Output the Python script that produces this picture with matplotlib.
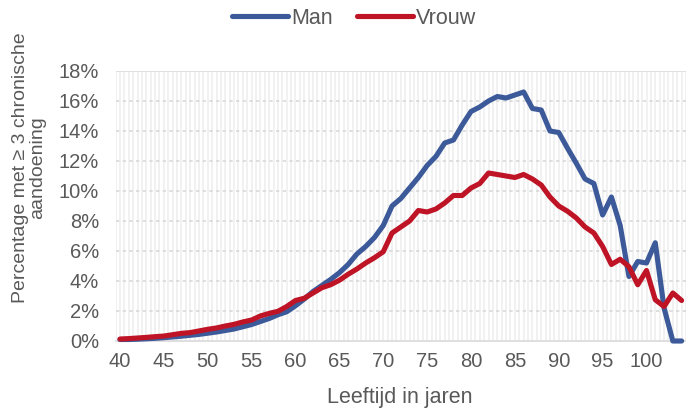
import numpy as np
import matplotlib.pyplot as plt

# Percentage met >= 3 chronische aandoeningen per leeftijd
leeftijd = list(range(40, 105))
man = [0.10, 0.10, 0.12, 0.15, 0.18, 0.22, 0.27, 0.32, 0.38, 0.44,
       0.52, 0.60, 0.70, 0.80, 0.95, 1.10, 1.30, 1.50, 1.75, 1.95,
       2.35, 2.80, 3.30, 3.70, 4.10, 4.55, 5.10, 5.80, 6.30, 6.90,
       7.70, 9.00, 9.50, 10.2, 10.9, 11.7, 12.3, 13.2, 13.4, 14.4,
       15.3, 15.6, 16.0, 16.3, 16.2, 16.4, 16.6, 15.5, 15.4, 14.0,
       13.9, 12.85, 11.85, 10.8, 10.5, 8.40, 9.60, 7.70, 4.30, 5.30,
       5.20, 6.55, 2.20, 0.00, 0.00]
vrouw = [0.13, 0.16, 0.20, 0.24, 0.29, 0.33, 0.42, 0.51, 0.56, 0.67,
         0.78, 0.87, 1.00, 1.11, 1.27, 1.40, 1.67, 1.84, 1.98, 2.30,
         2.70, 2.85, 3.20, 3.55, 3.75, 4.05, 4.45, 4.80, 5.20, 5.55,
         5.95, 7.20, 7.60, 8.00, 8.70, 8.60, 8.80, 9.20, 9.70, 9.70,
         10.2, 10.5, 11.2, 11.1, 11.0, 10.9, 11.1, 10.8, 10.4, 9.60,
         9.00, 8.65, 8.20, 7.60, 7.20, 6.30, 5.10, 5.45, 4.95, 3.75,
         4.70, 2.75, 2.30, 3.20, 2.70]
x_ticks = list(range(40, 101, 5))
y_ticks = list(range(0, 19, 2))

plt.rcParams['font.family'] = ['Liberation Sans', 'DejaVu Sans']
grijs = '#595959'
blauw = '#3c5a99'
rood = '#be1426'

fig = plt.figure(figsize=(6.86, 4.09), dpi=100)
ax = fig.add_axes([115.6 / 686, 1 - 341 / 409, 1 - 115.6 / 686, 270 / 409])

# lichte verticale rasterlijnen
for xv in np.arange(39.5, 104.6, 0.5):
    ax.axvline(xv, color='#f0f0f0', linewidth=1.3, zorder=0)
for yv in y_ticks[1:-1]:
    ax.axhline(yv, color='#d9d9d9', linewidth=1.2, linestyle=(0, (2, 2)), zorder=1)
ax.axhline(18, color='#dcdcdc', linewidth=1.2, zorder=1)

ax.plot(leeftijd, man, color=blauw, linewidth=3.7, solid_joinstyle='round',
        solid_capstyle='round', label='Man', zorder=3, clip_on=False)
ax.plot(leeftijd, vrouw, color=rood, linewidth=3.7, solid_joinstyle='round',
        solid_capstyle='round', label='Vrouw', zorder=4, clip_on=False)

ax.set_xlim(39.5, 104.5)
ax.set_ylim(0, 18)
ax.set_xticks(x_ticks)
ax.set_xticklabels([str(t) for t in x_ticks])
ax.set_yticks(y_ticks)
ax.set_yticklabels([f'{t}%' for t in y_ticks])
ax.tick_params(axis='both', length=0, labelsize=14.5, colors=grijs)
ax.tick_params(axis='x', pad=8)
ax.tick_params(axis='y', pad=12)

for side in ['top', 'right', 'left']:
    ax.spines[side].set_visible(False)
ax.spines['bottom'].set_color('#d9d9d9')
ax.spines['bottom'].set_linewidth(1.2)

fig.text(400 / 686, 1 - 397 / 409, 'Leeftijd in jaren', ha='center', va='center',
         fontsize=15.5, color=grijs)
fig.text(29 / 686, 1 - 168 / 409, 'Percentage met \u2265 3 chronische\naandoening',
         rotation=90, ha='center', va='center', fontsize=14, color=grijs,
         linespacing=1.05, multialignment='center')

fig.legend(loc='center', bbox_to_anchor=(354 / 686, 1 - 18 / 409), ncol=2,
           frameon=False, fontsize=15.5, labelcolor=grijs, handlelength=2.6,
           handletextpad=0.15, columnspacing=1.1)

fig.savefig('out.png', dpi=100)
